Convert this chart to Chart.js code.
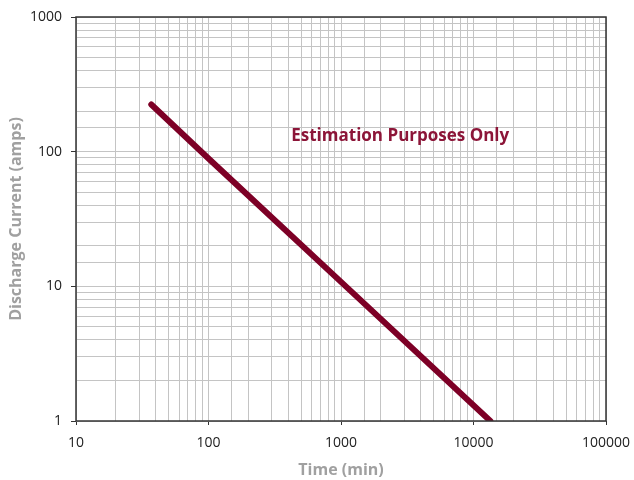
<!DOCTYPE html>
<html>
<head>
<meta charset="utf-8">
<script src="https://cdn.jsdelivr.net/npm/chart.js@4"></script>
<style>
	html, body { margin: 0; padding: 0; background: #fff; }
	#wrap { width: 634px; height: 480px; }
</style>
</head>
<body>
<div id="wrap"><canvas id="chart-discharge"></canvas></div>
<script>
'use strict';

// Data
var timeMin = [37, 100, 1000, 13400];
var currentAmps = [224, 89, 10.8, 1];
var xTicks = [10, 100, 1000, 10000, 100000];
var yTicks = [1, 10, 100, 1000];
var noteText = 'Estimation Purposes Only';
var notePos = [2800, 130];

var DischargeChart = (function () {
	var $canvas = document.getElementById('chart-discharge');

	function isMajor(v, list) {
		return list.indexOf(Number(v)) !== -1;
	}

	// frame round the plot + the red note
	var framePlugin = {
		id: 'frame',
		afterDatasetsDraw: function (chart) {
			var ctx = chart.ctx;
			var a = chart.chartArea;
			ctx.save();
			ctx.strokeStyle = '#333';
			ctx.lineWidth = 1.5;
			ctx.strokeRect(a.left, a.top, a.right - a.left, a.bottom - a.top);
			ctx.fillStyle = '#8c1538';
			ctx.font = 'bold 17px "Open Sans", sans-serif';
			ctx.textAlign = 'center';
			ctx.textBaseline = 'middle';
			ctx.fillText(noteText, chart.scales.x.getPixelForValue(notePos[0]), chart.scales.y.getPixelForValue(notePos[1]));
			ctx.restore();
		}
	};

	function init($this) {
		var points = timeMin.map(function (t, i) {
			return { x: t, y: currentAmps[i] };
		});
		var chart = new Chart($this, {
			type: 'line',
			data: {
				datasets: [{
					data: points,
					borderColor: '#7d0026',
					borderWidth: 6,
					borderCapStyle: 'round',
					pointRadius: 0,
					tension: 0
				}]
			},
			options: {
				responsive: true,
				maintainAspectRatio: false,
				animation: false,
				layout: { padding: { top: 17, right: 28, left: 0, bottom: 0 } },
				plugins: { legend: { display: false }, tooltip: { enabled: false } },
				scales: {
					x: {
						type: 'logarithmic',
						min: 10,
						max: 100000,
						afterFit: function (s) { s.height = 59; s.paddingLeft = 0; s.paddingRight = 0; },
						grid: {
							color: '#c4c4c4',
							lineWidth: 1,
							tickLength: 4,
							tickColor: function (c) { return c.tick && isMajor(c.tick.value, xTicks) ? '#333' : 'rgba(0,0,0,0)'; }
						},
						border: { display: false },
						ticks: {
							autoSkip: false,
							maxRotation: 0,
							color: '#222',
							padding: 10,
							font: { family: '"Open Sans", sans-serif', size: 14 },
							callback: function (v) { return isMajor(v, xTicks) ? String(v) : ''; }
						},
						title: {
							display: true,
							text: 'Time (min)',
							color: '#a0a0a0',
							padding: { top: 0, bottom: 0 },
							font: { family: '"Open Sans", sans-serif', size: 16, weight: 'bold' }
						}
					},
					y: {
						type: 'logarithmic',
						min: 1,
						max: 1000,
						afterFit: function (s) { s.width = 76; s.paddingTop = 0; s.paddingBottom = 0; },
						grid: {
							color: '#c4c4c4',
							lineWidth: 1,
							tickLength: 5,
							tickColor: function (c) { return c.tick && isMajor(c.tick.value, yTicks) ? '#333' : 'rgba(0,0,0,0)'; }
						},
						border: { display: false },
						ticks: {
							autoSkip: false,
							color: '#222',
							padding: 9,
							font: { family: '"Open Sans", sans-serif', size: 14 },
							callback: function (v) { return isMajor(v, yTicks) ? String(v) : ''; }
						},
						title: {
							display: true,
							text: 'Discharge Current (amps)',
							color: '#a0a0a0',
							padding: { top: 7, bottom: 0 },
							font: { family: '"Open Sans", sans-serif', size: 16, weight: 'bold' }
						}
					}
				}
			},
			plugins: [framePlugin]
		});
		$this.chart = chart;
	}

	if ($canvas) {
		init($canvas);
	}
})();
</script>
</body>
</html>
